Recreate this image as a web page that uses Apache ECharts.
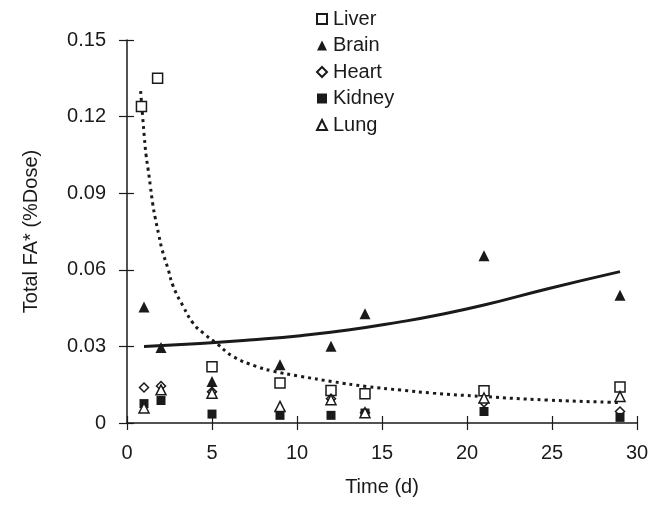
<!DOCTYPE html>
<html>
<head>
<meta charset="utf-8">
<script src="https://cdn.jsdelivr.net/npm/echarts@6/dist/echarts.min.js"></script>
<style>
  html, body { margin: 0; padding: 0; background: #fff; }
  #chart { width: 652px; height: 505px; }
</style>
</head>
<body>
<div id="chart"></div>
<script>
// Tissue levels of total FA* over time, [day, %dose]
var liver  = [[0.85, 0.124], [1.8, 0.135], [5, 0.022], [9, 0.0157], [12, 0.0127], [14, 0.0115], [21, 0.0126], [29, 0.0141]];
var brain  = [[1, 0.0454], [2, 0.0296], [5, 0.0163], [9, 0.0228], [12, 0.0301], [14, 0.0428], [21, 0.0655], [29, 0.0500]];
var heart  = [[1, 0.0139], [2, 0.0145], [5, 0.0122], [9, 0.0050], [12, 0.0095], [14, 0.0040], [21, 0.0081], [29, 0.0045]];
var kidney = [[1, 0.0076], [2, 0.0088], [5, 0.0035], [9, 0.0030], [12, 0.0030], [14, 0.0039], [21, 0.0045], [29, 0.0022]];
var lung   = [[1, 0.0059], [2, 0.0130], [5, 0.0117], [9, 0.0065], [12, 0.0091], [14, 0.0040], [21, 0.0098], [29, 0.0104]];

// Fitted trend curves
var brainFit = [[1, 0.0300], [4.3, 0.0311], [7.2, 0.0325], [10.2, 0.0342], [13, 0.0364], [16, 0.0395], [18, 0.0419], [21, 0.0462], [24.7, 0.0525], [29, 0.0593]];
var liverFit = [[0.8, 0.130], [0.92, 0.120], [1.02, 0.112], [1.12, 0.105], [1.25, 0.099], [1.37, 0.093], [1.51, 0.086], [1.67, 0.080], [1.86, 0.074], [2.06, 0.068], [2.43, 0.060], [2.72, 0.0535], [3.31, 0.0456], [3.9, 0.039], [4.49, 0.0352], [5.3, 0.031], [6.25, 0.026], [7.6, 0.0222], [8.6, 0.0203], [10.2, 0.0183], [12.1, 0.0162], [14.1, 0.0143], [16.1, 0.0129], [18, 0.0117], [20.9, 0.0104], [24.7, 0.0090], [28.4, 0.0081], [29, 0.0080]];

var xTicks = [0, 5, 10, 15, 20, 25, 30];
var yTicks = ['0', '0.03', '0.06', '0.09', '0.12', '0.15'];

var ink = '#1a1a1a';
var font = 'Liberation Sans, Arial, sans-serif';
var fs = 20;

function hollow(name, symbol, size, data) {
  return {
    name: name, type: 'scatter', data: data, symbol: symbol, symbolSize: size, z: 5,
    itemStyle: { color: '#fff', borderColor: ink, borderWidth: 1.5, opacity: 1 }
  };
}
function filled(name, symbol, size, data) {
  return {
    name: name, type: 'scatter', data: data, symbol: symbol, symbolSize: size, z: 5,
    itemStyle: { color: ink, opacity: 1 }
  };
}

var baseX = { min: 0, max: 30, interval: 5, splitLine: { show: false } };
var baseY = { min: 0, max: 0.15, interval: 0.03, splitLine: { show: false } };

var chart = echarts.init(document.getElementById('chart'), null, { renderer: 'canvas' });
chart.setOption({
  animation: false,
  backgroundColor: '#fff',
  grid: { left: 127, right: 15, top: 40, bottom: 82 },
  legend: {
    orient: 'vertical', left: 316, top: 9, itemGap: 6.5, padding: 0,
    itemWidth: 10, itemHeight: 10,
    textStyle: { color: ink, fontSize: fs, fontFamily: font, padding: [0, 0, 0, 1] },
    data: ['Liver', 'Brain', 'Heart', 'Kidney', 'Lung']
  },
  xAxis: [
    Object.assign({}, baseX, {
      type: 'value', name: 'Time (d)', nameLocation: 'middle', nameGap: 54,
      nameTextStyle: { color: ink, fontSize: fs, fontFamily: font },
      axisLine: { lineStyle: { color: ink, width: 1.5 } },
      axisTick: { length: 7, lineStyle: { color: ink, width: 1.2 } },
      axisLabel: { color: ink, fontSize: fs, fontFamily: font, margin: 20,
        formatter: function (v) { return xTicks.indexOf(v) >= 0 ? String(v) : ''; } }
    }),
    Object.assign({}, baseX, {
      type: 'value', position: 'bottom',
      axisLine: { show: false },
      axisTick: { inside: true, length: 7, lineStyle: { color: ink, width: 1.2 } },
      axisLabel: { show: false }
    })
  ],
  yAxis: [
    Object.assign({}, baseY, {
      type: 'value', name: 'Total FA* (%Dose)', nameLocation: 'middle', nameGap: 86,
      nameTextStyle: { color: ink, fontSize: fs, fontFamily: font },
      axisLine: { lineStyle: { color: ink, width: 1.5 } },
      axisTick: { length: 8, lineStyle: { color: ink, width: 1.2 } },
      axisLabel: { color: ink, fontSize: fs, fontFamily: font, margin: 21,
        formatter: function (v) { return yTicks[Math.round(v / 0.03)]; } }
    }),
    Object.assign({}, baseY, {
      type: 'value', position: 'left',
      axisLine: { show: false },
      axisTick: { inside: true, length: 7, lineStyle: { color: ink, width: 1.2 } },
      axisLabel: { show: false }
    })
  ],
  series: [
    {
      type: 'line', data: brainFit, smooth: true, symbol: 'none', z: 3,
      lineStyle: { color: ink, width: 3 }
    },
    {
      type: 'line', data: liverFit, smooth: true, symbol: 'none', z: 3,
      lineStyle: { color: ink, width: 3, type: [3, 4] }
    },
    hollow('Liver', 'rect', 10, liver),
    filled('Brain', 'triangle', 11, brain),
    hollow('Heart', 'diamond', 9, heart),
    filled('Kidney', 'rect', 9, kidney),
    hollow('Lung', 'triangle', 10, lung)
  ]
});
</script>
</body>
</html>
